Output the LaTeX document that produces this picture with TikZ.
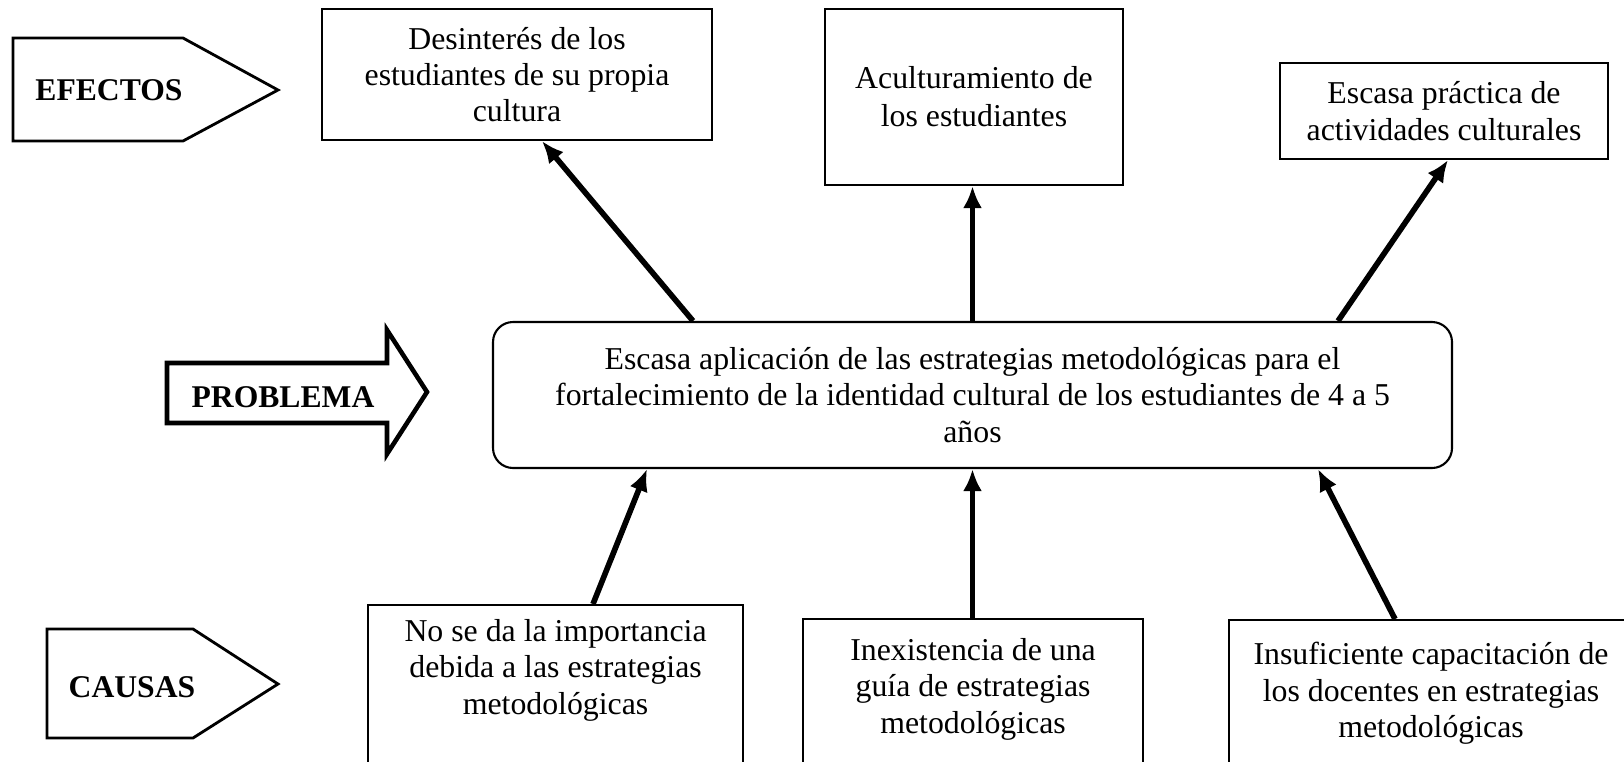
\documentclass[tikz,border=0pt]{standalone}
\usepackage{fontspec}
\setmainfont{Liberation Serif}
\usetikzlibrary{arrows.meta,positioning}

\tikzset{
	box/.style={draw, line width=0.6pt, align=center, inner sep=0pt, font=\fontsize{9.05}{10.3}\selectfont},
	causebox/.style={draw, line width=0.6pt, anchor=north west, inner xsep=0pt, inner ysep=1.4mm, font=\fontsize{9.05}{10.4}\selectfont},
	tag/.style={font=\bfseries\fontsize{9}{10}\selectfont},
	arr/.style={-{Latex[length=2.2mm,width=1.9mm]}, line width=1.6pt},
}

\begin{document}
\begin{tikzpicture}[x=0.1mm,y=-0.1mm]
		\clip (0,0) rectangle (1624,761);
		%
		\draw[line width=0.8pt] (13,38) -- (183,38) -- (278,90) -- (183,141) -- (13,141) -- cycle;
		\node[tag] (efectos) at (109,90) {EFECTOS};
		\draw[line width=1.3pt] (167,363) -- (387,363) -- (387,330) -- (427,392) -- (387,454) -- (387,423) -- (167,423) -- cycle;
		\node[tag] (problema) at (283,397) {PROBLEMA};
		\draw[line width=0.8pt] (47,629) -- (193,629) -- (278,684) -- (193,738) -- (47,738) -- cycle;
		\node[tag] (causas) at (132,687) {CAUSAS};
		%
		\node[box, minimum width=39mm, minimum height=13.1mm] (ef1) at (517,74.5) {Desinterés de los\\estudiantes de su propia\\cultura};
		\node[box, minimum width=29.8mm, minimum height=17.6mm, font=\fontsize{9.05}{10.8}\selectfont] (ef2) at (974,97) {Aculturamiento de\\los estudiantes};
		\node[box, minimum width=32.8mm, minimum height=9.6mm] (ef3) at (1444,111) {Escasa práctica de\\actividades culturales};
		%
		\node[box, rounded corners=2mm, minimum width=95.9mm, minimum height=14.6mm] (prob) at (972.5,395) {Escasa aplicación de las estrategias metodológicas para el\\fortalecimiento de la identidad cultural de los estudiantes de 4 a 5\\años};
		%
		\node[causebox] (ca1) at (367,604) {\parbox[t][25mm][t]{37.5mm}{\centering No se da la importancia\\debida a las estrategias\\metodológicas}};
		\node[causebox, inner ysep=1.9mm] (ca2) at (802,618) {\parbox[t][25mm][t]{34mm}{\centering Inexistencia de una\\guía de estrategias\\metodológicas}};
		\node[causebox, inner ysep=2.2mm] (ca3) at (1228,619) {\parbox[t][25mm][t]{40.4mm}{\centering Insuficiente capacitación de\\los docentes en estrategias\\metodológicas}};
		%
		\draw[arr] (prob.north -| 693,0) -- (ef1.south -| 542,0);
		\draw[arr] (prob.north) -- (ef2.south -| prob.north);
		\draw[arr] (prob.north -| 1338,0) -- (ef3.south -| 1448,0);
		\draw[arr] (ca1.north -| 593,0) -- (prob.south -| 647,0);
		\draw[arr] (ca2.north -| prob.south) -- (prob.south);
		\draw[arr] (ca3.north -| 1395,0) -- (prob.south -| 1318,0);
	\end{tikzpicture}
\end{document}
